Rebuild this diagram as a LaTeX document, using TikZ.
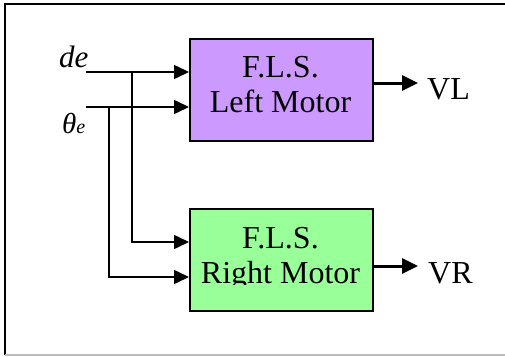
\documentclass[tikz,border=0pt]{standalone}
\usepackage{fontspec}
\setmainfont{Liberation Serif}
\usetikzlibrary{arrows.meta}
\definecolor{lpurple}{HTML}{CC99FF}
\definecolor{lgreen}{HTML}{99FF99}
\definecolor{framegray}{HTML}{BBBBBB}
\tikzset{
  box/.style={draw=black, line width=1.5pt, minimum width=183pt, minimum height=102pt, inner sep=0pt, anchor=north west},
  boxtext/.style={font=\fontsize{32}{35}\selectfont, anchor=base, inner sep=0pt},
  outtext/.style={font=\fontsize{32}{35}\selectfont, anchor=base west, inner sep=0pt},
  inarr/.style={line width=1.6pt, -{Triangle[length=15pt, width=14pt]}},
  outarr/.style={line width=3pt, -{Triangle[length=16pt, width=15pt]}},
  wire/.style={line width=1.6pt}
}
\begin{document}
\begin{tikzpicture}[x=1pt, y=-1pt]
\useasboundingbox (0,0) rectangle (505,356);
% frame
\draw[line width=2pt] (5,355) -- (5,4) -- (505,4);
\draw[framegray, line width=1.5pt] (5,355) -- (505,355);
% boxes
\node[box, fill=lpurple] (lbox) at (189,38) {};
\node[box, fill=lgreen] (rbox) at (189,208) {};
\node[boxtext] (lt1) at (280.5,77) {F.L.S.};
\node[boxtext] (lt2) at (280.5,112) {Left Motor};
\node[boxtext] (rt1) at (280.5,248) {F.L.S.};
\begin{scope}
\clip (190,230) rectangle (371,284);
\node[boxtext] (rt2) at (280.5,283) {Right Motor};
\end{scope}
% inputs
\node[anchor=base west, inner sep=0pt, font=\fontsize{31}{34}\selectfont\itshape] (de) at (59,67) {de};
\node[anchor=base west, inner sep=0pt] (th) at (62,133) {\fontsize{29}{32}\selectfont\itshape θ\fontsize{20}{22}\selectfont e};
\coordinate (deS) at (86,72);
\coordinate (thS) at (86,107);
\coordinate (j1) at (132,72);
\coordinate (j2) at (109,107);
\draw[inarr] (deS) -- (deS -| lbox.west);
\draw[inarr] (thS) -- (thS -| lbox.west);
\draw[inarr] (j1) |- (rbox.west |- 0,242);
\draw[inarr] (j2) |- (rbox.west |- 0,277);
% outputs
\node[outtext] (vl) at (427,99) {VL};
\node[outtext] (vr) at (428,283) {VR};
\draw[outarr] (lbox.east |- 0,83) -- (418,83);
\draw[outarr] (rbox.east |- 0,266) -- (418,266);
\end{tikzpicture}
\end{document}
